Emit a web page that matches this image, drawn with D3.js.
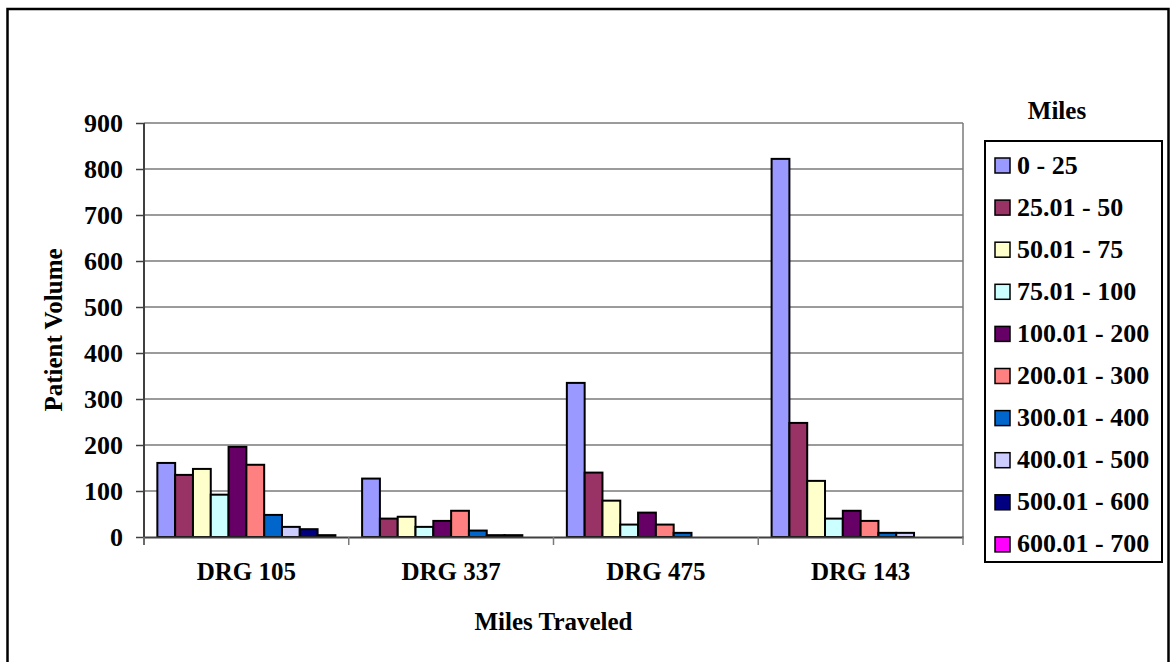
<!DOCTYPE html>
<html>
    <head>
        <meta charset="utf-8">
        <style>
          body { margin: 0; background: #fff; }
          text { font-family: 'Liberation Serif', 'Times New Roman', Times, serif !important; font-weight: bold; }
        </style>
    </head>
    <body>
        <script src="https://d3js.org/d3.v7.min.js"></script>
        <script>
          // categories on the x axis
          const categories = ['DRG 105', 'DRG 337', 'DRG 475', 'DRG 143'];
          // mileage bands (legend entries)
          const bands = ['0 - 25', '25.01 - 50', '50.01 - 75', '75.01 - 100', '100.01 - 200',
            '200.01 - 300', '300.01 - 400', '400.01 - 500', '500.01 - 600', '600.01 - 700'];
          // patient volume per band, one array per DRG
          const drg105 = [161, 135, 148, 92, 196, 157, 48, 22, 17, 4];
          const drg337 = [127, 40, 44, 22, 35, 57, 14, 4, 4, 0];
          const drg475 = [335, 140, 79, 27, 53, 27, 9, 0, 0, 0];
          const drg143 = [822, 248, 122, 40, 57, 35, 9, 9, 0, 0];
          const yTicks = [0, 100, 200, 300, 400, 500, 600, 700, 800, 900];
          const colors = ['#9999ff', '#993366', '#ffffcc', '#ccffff', '#660066',
            '#ff8080', '#0066cc', '#ccccff', '#000080', '#ff00ff'];

          const serif = "'Liberation Serif', 'Times New Roman', Times, serif";

          function makeChart() {
            const values = [drg105, drg337, drg475, drg143];
            const rows = [];
            categories.forEach((c, i) => {
              bands.forEach((b, j) => rows.push({ cat: c, band: b, value: values[i][j] }));
            });

            const width = 1170;
            const height = 662;
            const plot = { left: 144, right: 963, top: 123, bottom: 537 };

            const svg = d3.select('body').append('svg')
              .attr('width', width)
              .attr('height', height)
              .attr('font-family', serif)
              .attr('font-weight', 'bold');

            // outer chart border
            svg.append('rect')
              .attr('x', 7.5).attr('y', 9)
              .attr('width', 1161).attr('height', 700)
              .attr('fill', '#fff')
              .attr('stroke', '#000')
              .attr('stroke-width', 2.5);

            const xScale = d3.scaleBand()
              .domain(categories)
              .range([plot.left, plot.right]);

            const xInner = d3.scaleBand()
              .domain(bands)
              .range([0, xScale.bandwidth()])
              .paddingInner(0)
              .paddingOuter(0.75);

            const yScale = d3.scaleLinear()
              .domain([0, 900])
              .range([plot.bottom, plot.top]);

            const colorScale = d3.scaleOrdinal()
              .domain(bands)
              .range(colors);

            // gridlines
            svg.append('g')
              .selectAll('line')
              .data(yTicks.filter(d => d > 0))
              .join('line')
              .attr('x1', plot.left).attr('x2', plot.right)
              .attr('y1', d => yScale(d)).attr('y2', d => yScale(d))
              .attr('stroke', '#7a7a7a')
              .attr('stroke-width', 1.5);

            // right border of plot area
            svg.append('line')
              .attr('x1', plot.right).attr('x2', plot.right)
              .attr('y1', plot.top).attr('y2', plot.bottom)
              .attr('stroke', '#7a7a7a')
              .attr('stroke-width', 1.5);

            // bars
            svg.append('g')
              .selectAll('rect')
              .data(rows.filter(d => d.value > 0))
              .join('rect')
              .attr('x', d => xScale(d.cat) + xInner(d.band))
              .attr('y', d => yScale(d.value))
              .attr('width', xInner.bandwidth())
              .attr('height', d => yScale(0) - yScale(d.value))
              .attr('fill', d => colorScale(d.band))
              .attr('stroke', '#000')
              .attr('stroke-width', 2);

            // y axis
            const yAxis = d3.axisLeft(yScale)
              .tickValues(yTicks)
              .tickSize(8)
              .tickPadding(13)
              .tickSizeOuter(0);

            const yg = svg.append('g')
              .attr('transform', `translate(${plot.left},0)`)
              .call(yAxis)
              .attr('font-family', serif);
            yg.select('.domain').attr('stroke', '#404040').attr('stroke-width', 2)
              .attr('d', `M0,${plot.top}V${plot.bottom + 8}`);
            yg.selectAll('.tick line').attr('stroke', '#404040').attr('stroke-width', 1.5);
            yg.selectAll('.tick text')
              .attr('font-size', 26)
              .attr('fill', '#000')
              .attr('dy', '0.33em');

            // x axis
            const xAxis = d3.axisBottom(xScale)
              .tickSize(0)
              .tickPadding(38)
              .tickSizeOuter(0);

            const xg = svg.append('g')
              .attr('transform', `translate(0,${plot.bottom})`)
              .call(xAxis)
              .attr('font-family', serif);
            xg.select('.domain').attr('stroke', '#404040').attr('stroke-width', 2);
            xg.selectAll('.tick text')
              .attr('font-size', 25)
              .attr('fill', '#000')
              .attr('dy', '0.2em');

            // category separators
            xg.append('g')
              .selectAll('line')
              .data(categories.map(c => xScale(c)).concat([plot.right]))
              .join('line')
              .attr('x1', d => d).attr('x2', d => d)
              .attr('y1', 0).attr('y2', 8)
              .attr('stroke', '#7a7a7a')
              .attr('stroke-width', 1.5);

            // axis titles
            svg.append('text')
              .attr('transform', `translate(62,${(plot.top + plot.bottom) / 2}) rotate(-90)`)
              .attr('text-anchor', 'middle')
              .attr('font-size', 25)
              .text('Patient Volume');

            svg.append('text')
              .attr('x', (plot.left + plot.right) / 2)
              .attr('y', 630)
              .attr('text-anchor', 'middle')
              .attr('font-size', 25)
              .text('Miles Traveled');

            // legend
            svg.append('text')
              .attr('x', 1057)
              .attr('y', 119)
              .attr('text-anchor', 'middle')
              .attr('font-size', 25)
              .text('Miles');

            svg.append('rect')
              .attr('x', 985).attr('y', 141)
              .attr('width', 177).attr('height', 421)
              .attr('fill', '#fff')
              .attr('stroke', '#000')
              .attr('stroke-width', 2);

            const legend = svg.append('g')
              .selectAll('g')
              .data(bands)
              .join('g')
              .attr('transform', (d, i) => `translate(995,${158 + i * 42.1})`);

            legend.append('rect')
              .attr('width', 15)
              .attr('height', 15)
              .attr('fill', colorScale)
              .attr('stroke', '#000')
              .attr('stroke-width', 1.5);

            legend.append('text')
              .attr('x', 22)
              .attr('y', 15.5)
              .attr('font-size', 26)
              .text(d => d);
          }

          makeChart();
        </script>
    </body>
</html>
